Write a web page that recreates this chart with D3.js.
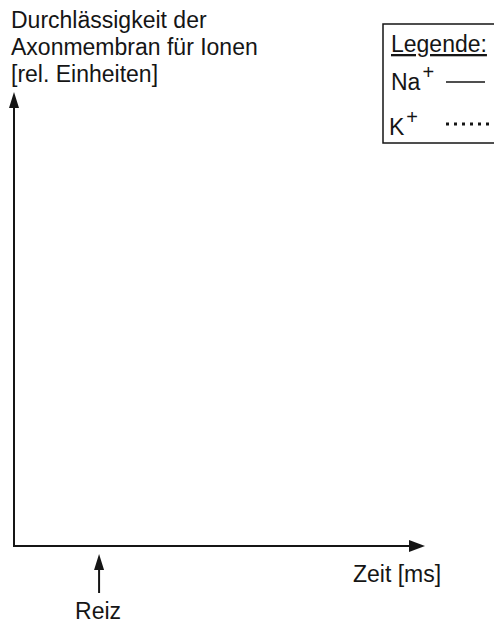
<!DOCTYPE html>
<html>
<head>
<meta charset="utf-8">
<script src="https://cdnjs.cloudflare.com/ajax/libs/d3/7.8.5/d3.min.js"></script>
<style>
  html, body { margin: 0; padding: 0; background: #fff; }
  svg { display: block; font-family: "Liberation Sans", Arial, sans-serif; }
</style>
</head>
<body>
<div id="chart"></div>
<script>
// chart content (empty worksheet chart: axes, stimulus marker, legend)
const yTitleLines = ['Durchlässigkeit der', 'Axonmembran für Ionen', '[rel. Einheiten]'];
const xLabel = 'Zeit [ms]';
const stimulusLabel = 'Reiz';
const timeDomain = [0, 10];        // ms
const permeabilityDomain = [0, 1]; // rel. Einheiten
const stimulusTime = 2.3;
const legendTitle = 'Legende:';
const legendIons = ['Na', 'K'];
const legendCharges = ['+', '+'];
const legendDash = [null, '3,5'];
// no curves drawn in the reference
const naSeries = [];
const kSeries = [];

const W = 494, H = 623;
const ox = 14, oy = 546;           // axis origin
const xEnd = 425, yEnd = 92;       // arrow tips
const fs = '23px';

const svg = d3.select('#chart').append('svg')
  .attr('width', W).attr('height', H);

const x = d3.scaleLinear().domain(timeDomain).range([ox, ox + (xEnd - ox) * 0.9]);
const y = d3.scaleLinear().domain(permeabilityDomain).range([oy, yEnd + 40]);

const ink = '#151515';

// y title
svg.append('g').selectAll('text').data(yTitleLines).join('text')
  .attr('x', 11).attr('y', (d, i) => 28 + i * 27)
  .style('font-size', fs).style('fill', ink)
  .text(d => d);

// axes
svg.append('line').attr('x1', ox).attr('y1', oy + 1).attr('x2', ox).attr('y2', yEnd + 14)
  .style('stroke', ink).style('stroke-width', 2);
svg.append('path').attr('d', `M${ox},${yEnd} L${ox - 5},${yEnd + 16} L${ox + 5},${yEnd + 16} Z`)
  .style('fill', ink);

svg.append('line').attr('x1', ox - 1).attr('y1', oy).attr('x2', xEnd - 14).attr('y2', oy)
  .style('stroke', ink).style('stroke-width', 2);
svg.append('path').attr('d', `M${xEnd},${oy} L${xEnd - 16},${oy - 6} L${xEnd - 16},${oy + 6} Z`)
  .style('fill', ink);

svg.append('text').attr('x', 353).attr('y', 582)
  .style('font-size', fs).style('fill', ink).text(xLabel);

// stimulus arrow
const sx = x(stimulusTime);
svg.append('line').attr('x1', sx).attr('y1', 593).attr('x2', sx).attr('y2', 566)
  .style('stroke', ink).style('stroke-width', 2);
svg.append('path').attr('d', `M${sx},554 L${sx - 5},570 L${sx + 5},570 Z`).style('fill', ink);
svg.append('text').attr('x', sx - 1).attr('y', 619).attr('text-anchor', 'middle')
  .style('font-size', fs).style('fill', ink).text(stimulusLabel);

// curves (none in the reference)
const line = d3.line().x(d => x(d[0])).y(d => y(d[1]));
svg.append('path').datum(naSeries).attr('d', line).style('fill', 'none').style('stroke', ink);
svg.append('path').datum(kSeries).attr('d', line).style('fill', 'none').style('stroke', ink)
  .style('stroke-dasharray', '3,5');

// legend
const lg = svg.append('g');
lg.append('rect').attr('x', 383).attr('y', 24).attr('width', 130).attr('height', 119)
  .style('fill', '#fff').style('stroke', ink).style('stroke-width', 1.5);
lg.append('text').attr('x', 391).attr('y', 52)
  .style('font-size', fs).style('fill', ink).style('text-decoration', 'underline')
  .text(legendTitle);

const rows = lg.selectAll('g.row').data(legendIons).join('g').attr('class', 'row')
  .attr('transform', (d, i) => `translate(0, ${i * 45})`);
const lt = rows.append('text').attr('x', (d, i) => i === 0 ? 391 : 389).attr('y', 90)
  .style('font-size', fs).style('fill', ink);
lt.append('tspan').text(d => d);
lt.append('tspan').attr('dx', 2).attr('dy', -11).style('font-size', '20px')
  .text((d, i) => legendCharges[i]);
rows.append('line').attr('x1', 446).attr('x2', (d, i) => i === 0 ? 485 : 489)
  .attr('y1', (d, i) => i === 0 ? 82 : 79).attr('y2', (d, i) => i === 0 ? 82 : 79)
  .style('stroke', ink)
  .style('stroke-width', (d, i) => i === 0 ? 1.6 : 3)
  .style('stroke-dasharray', (d, i) => legendDash[i]);
</script>
</body>
</html>
